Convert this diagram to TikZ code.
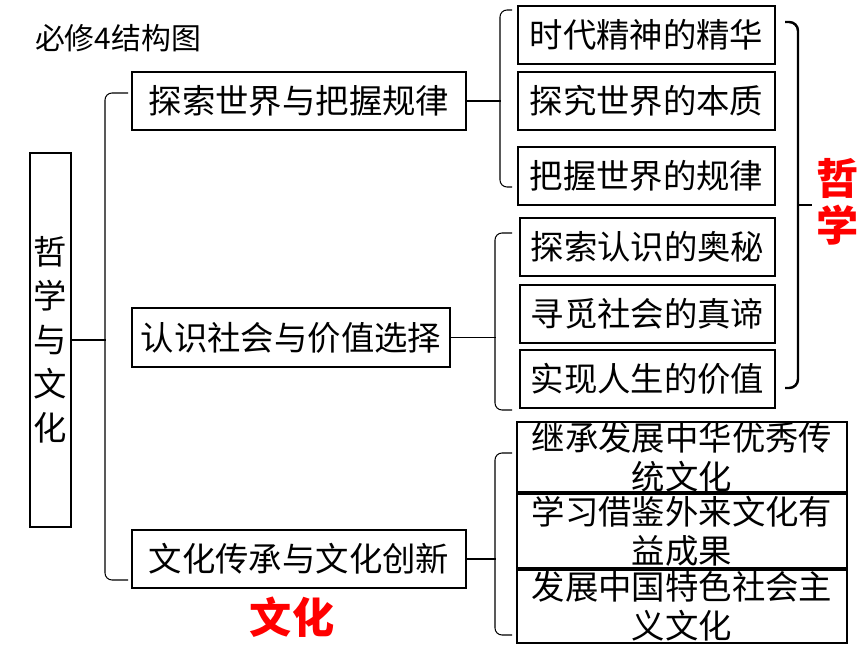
\documentclass[tikz,border=0pt]{standalone}
\usepackage{fontspec}
\setmainfont{Noto Sans CJK SC}
\begin{document}
\begin{tikzpicture}[x=0.02cm,y=-0.02cm]
\tikzset{
	box/.style={draw,line width=1.6pt,inner sep=0pt,font=\fontsize{19pt}{21pt}\selectfont,align=center},
	brace/.style={draw,line width=0.6pt,rounded corners=4pt},
	red/.style={text=red,font=\fontsize{24pt}{27pt}\selectfont\bfseries}
}
\useasboundingbox (0,0) rectangle (860,645);

\node[font=\fontsize{17pt}{19pt}\selectfont] (title) at (118,38) {必修4结构图};

% left column
\node[box,minimum width=41*0.02cm,minimum height=374*0.02cm,font=\fontsize{19pt}{25pt}\selectfont] (root) at (50.5,340) {哲\\学\\与\\文\\化};

% second level
\foreach \n/\xa/\xb/\ya/\yb/\t in {s1/132/466/72/130/探索世界与把握规律,s2/132/450/308/367/认识社会与价值选择,s3/132/466/530/588/文化传承与文化创新}{
	\node[box,minimum width={(\xb-\xa)*0.02cm},minimum height={(\yb-\ya)*0.02cm}] (\n) at ({(\xa+\xb)/2},{(\ya+\yb)/2}) {\t};
}

% third level
\foreach \n/\xa/\xb/\ya/\yb/\t in {a1/518/775/6/64/时代精神的精华,a2/518/775/72/130/探究世界的本质,a3/518/775/147/205/把握世界的规律,b1/520/775/218/276/探索认识的奥秘,b2/520/775/285/343/寻觅社会的真谛,b3/520/775/350/408/实现人生的价值}{
	\node[box,minimum width={(\xb-\xa)*0.02cm},minimum height={(\yb-\ya)*0.02cm}] (\n) at ({(\xa+\xb)/2},{(\ya+\yb)/2}) {\t};
}
\foreach \n/\ya/\yb/\t in {c1/422/492/继承发展中华优秀传\\统文化,c2/494/568/学习借鉴外来文化有\\益成果,c3/570/643/发展中国特色社会主\\义文化}{
	\node[box,minimum width={330*0.02cm},minimum height={(\yb-\ya)*0.02cm},font=\fontsize{19pt}{22pt}\selectfont] (\n) at (682,{(\ya+\yb)/2}) {\t};
}

% brackets
\draw[brace] (128,93) -- (105,93) -- (105,580) -- (128,580);
\draw[brace] (root.east) -- ++(34,0);
\draw[brace] (512,10) -- (500,10) -- (500,187) -- (512,187);
\draw[brace] (s1.east) -- ++(34,0);
\draw[brace] (512,233) -- (495,233) -- (495,410) -- (512,410);
\draw[brace] (s2.east) -- ++(45,0);
\draw[brace] (512,453) -- (495,453) -- (495,635) -- (512,635);
\draw[brace] (s3.east) -- ++(29,0);
\draw[line width=1.4pt,rounded corners=5pt] (785,22) -- (798,22) -- (798,388) -- (785,388);
\draw[line width=1.4pt] (798,205) -- (812,205);

\node[red,align=center] (zhe) at (838,202) {哲\\学};
\node[red] (wh) at (292,617) {文化};
\end{tikzpicture}
\end{document}
